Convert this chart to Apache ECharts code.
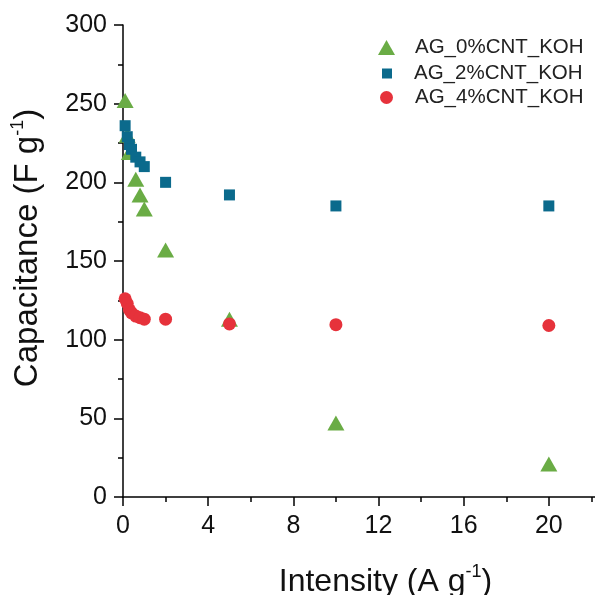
<!DOCTYPE html>
<html>
<head>
<meta charset="utf-8">
<script src="https://cdn.jsdelivr.net/npm/echarts@6/dist/echarts.min.js"></script>
<style>
  html, body { margin: 0; padding: 0; background: #fff; }
  #chart { width: 595px; height: 595px; }
</style>
</head>
<body>
<div id="chart"></div>
<script>
// current density (A g-1) and capacitance (F g-1) per sample
var seriesNames = ['AG_0%CNT_KOH', 'AG_2%CNT_KOH', 'AG_4%CNT_KOH'];
var ag0 = [[0.1, 252], [0.2, 230], [0.3, 219], [0.6, 202], [0.8, 192], [1, 183], [2, 157], [5, 113], [10, 47], [20, 21]];
var ag2 = [[0.1, 236], [0.2, 229], [0.3, 224], [0.4, 221], [0.6, 216], [0.8, 213], [1, 210], [2, 200], [5, 192], [10, 185], [20, 185]];
var ag4 = [[0.1, 126], [0.2, 123], [0.3, 119], [0.4, 117], [0.6, 115], [0.8, 114], [1, 113], [2, 113], [5, 110], [10, 109.5], [20, 109]];

var font = 'Liberation Sans, Arial, sans-serif';
var colors = ['#6aac45', '#0b6a8c', '#e6323b'];

// one legend per entry so each keeps its own symbol size
function legendEntry(name, icon, w, h, left, top, gap) {
  return {
    orient: 'vertical',
    left: left,
    top: top,
    padding: 0,
    itemWidth: w,
    itemHeight: h,
    textStyle: { fontSize: 20.5, color: '#222', fontFamily: font, padding: [0, 0, 0, gap] },
    data: [{ name: name, icon: icon }]
  };
}

function nameRich(size) {
  return {
    n: { fontSize: size, color: '#111', fontFamily: font },
    s: { fontSize: 18, color: '#111', fontFamily: font, padding: [0, 0, 20, 0] }
  };
}

var option = {
  animation: false,
  backgroundColor: '#fff',
  textStyle: { fontFamily: font },
  grid: { left: 123, right: -39, top: 25, bottom: 98, outerBoundsMode: 'none' },
  legend: [
    legendEntry(seriesNames[0], 'triangle', 17, 15, 378, 37, 15),
    legendEntry(seriesNames[1], 'rect', 10, 10, 382, 63, 17),
    legendEntry(seriesNames[2], 'circle', 13, 13, 380, 87, 17)
  ],
  xAxis: {
    type: 'value',
    min: 0,
    max: 24,
    interval: 4,
    name: '{n|Intensity (A g}{s|-1}{n|)}',
    nameLocation: 'middle',
    nameGap: 66,
    nameTextStyle: { rich: nameRich(32), padding: [0, 0, 0, 14] },
    splitLine: { show: false },
    axisLine: { lineStyle: { color: '#000', width: 1.5 } },
    axisTick: { inside: false, length: 9, lineStyle: { color: '#000', width: 1.5 } },
    minorTick: { show: true, splitNumber: 2, length: 5, lineStyle: { color: '#000', width: 1.5 } },
    axisLabel: { fontSize: 25, color: '#111', margin: 17 }
  },
  yAxis: {
    type: 'value',
    min: 0,
    max: 300,
    interval: 50,
    name: '{n|Capacitance (F g}{s|-1}{n|)}',
    nameLocation: 'middle',
    nameGap: 76,
    nameTextStyle: { rich: nameRich(33), padding: [0, 0, 0, 26] },
    splitLine: { show: false },
    axisLine: { onZero: false, lineStyle: { color: '#000', width: 1.5 } },
    axisTick: { inside: false, length: 9, lineStyle: { color: '#000', width: 1.5 } },
    minorTick: { show: true, splitNumber: 2, length: 5, lineStyle: { color: '#000', width: 1.5 } },
    axisLabel: { fontSize: 25, color: '#111', margin: 16 }
  },
  series: [
    {
      name: seriesNames[0], type: 'scatter', data: ag0,
      symbol: 'triangle', symbolSize: [17, 15],
      itemStyle: { color: colors[0], opacity: 1 }, z: 2
    },
    {
      name: seriesNames[1], type: 'scatter', data: ag2,
      symbol: 'rect', symbolSize: 11,
      itemStyle: { color: colors[1], opacity: 1 }, z: 3
    },
    {
      name: seriesNames[2], type: 'scatter', data: ag4,
      symbol: 'circle', symbolSize: 13,
      itemStyle: { color: colors[2], opacity: 1 }, z: 4
    }
  ]
};

var chart = echarts.init(document.getElementById('chart'));
chart.setOption(option);
</script>
</body>
</html>
